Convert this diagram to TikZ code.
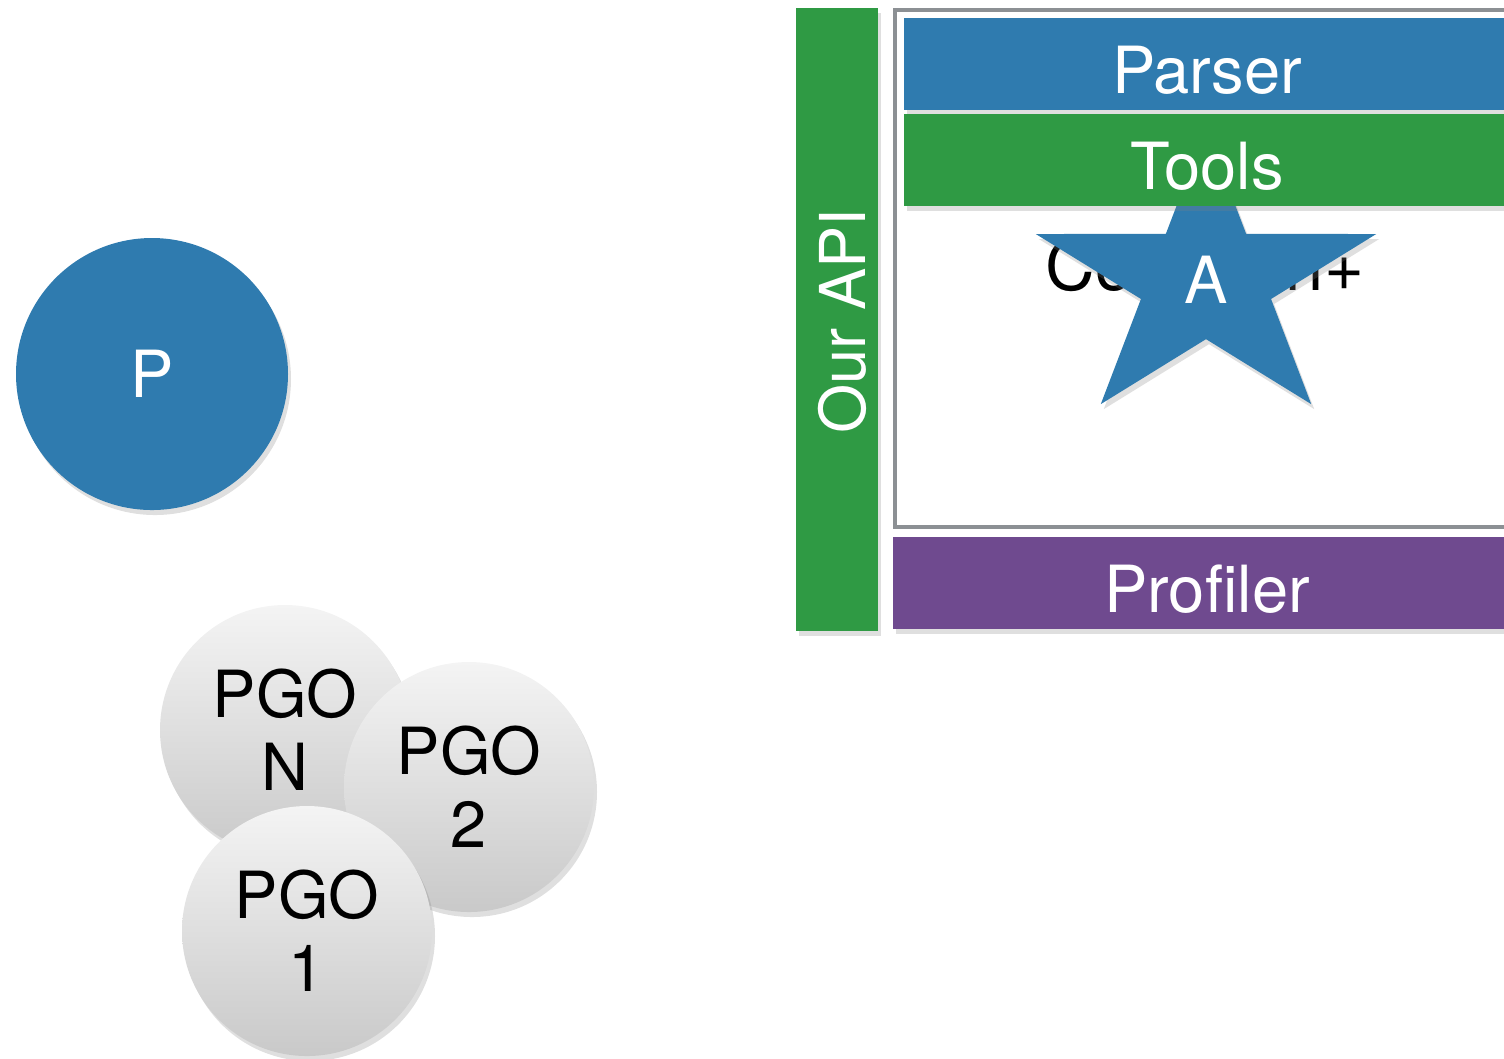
\documentclass[tikz,border=0pt]{standalone}
\usepackage{fontspec}
\setmainfont{TeX Gyre Heros}
\usetikzlibrary{shadows}
\definecolor{apiblue}{HTML}{2F7BAF}
\definecolor{apigreen}{HTML}{2F9A44}
\definecolor{profpurple}{HTML}{6F4A8F}
\definecolor{framegray}{HTML}{8C9094}
\definecolor{pgotop}{HTML}{F4F4F4}
\definecolor{pgobot}{HTML}{C9C9C9}

\begin{document}
\begin{tikzpicture}[
    txt/.style={font=\fontsize{18.5}{20.8}\selectfont},
    shade/.style={drop shadow={opacity=0.25,shadow xshift=0.03cm,shadow yshift=-0.05cm}},
    bar/.style={txt, rectangle, minimum width=6.06cm, minimum height=0.92cm, inner sep=0pt, text height=0.58cm, text depth=0cm, text=white, shade},
    pgo/.style={txt, circle, minimum size=2.5cm, inner sep=0pt, align=center, top color=pgotop, bottom color=pgobot, shade}
  ]
  \clip(0,0) rectangle (15.04,-10.58);
  % left side
  \node[txt, circle, minimum size=2.72cm, fill=apiblue, text=white, shade] (p) at (1.52,-3.74) {P};
  \node[pgo] (pgoN) at (2.85,-7.30) {PGO\\N};
  \node[pgo] (pgo2) at (4.69,-7.87) {PGO\\2};
  \node[pgo] (pgo1) at (3.07,-9.31) {PGO\\1};
  % right side
  \node[txt, rectangle, minimum width=0.82cm, minimum height=6.23cm, inner sep=0pt, fill=apigreen, text=white, shade] (api) at (8.37,-3.195) {};
  \node[txt, rotate=90, text=white, font=\fontsize{18}{20}\selectfont] (apitext) at (8.42,-3.21) {Our API};
  \draw[framegray, line width=1.2pt, fill=white] (8.95,-0.10) rectangle (15.4,-5.27);
  \node[txt, font=\fontsize{19.5}{22}\selectfont] (codegen) at (12.05,-2.72) {Codegen+};
  \begin{scope}[shift={(12.06,-2.81)}, yscale=0.85]
    \fill[apiblue, shade] (90:1.79) -- (126:0.684) -- (162:1.79) -- (198:0.684) -- (234:1.79)
      -- (270:0.684) -- (306:1.79) -- (342:0.684) -- (18:1.79) -- (54:0.684) -- cycle;
  \end{scope}
  \node[txt, text=white] (a) at (12.06,-2.80) {A};
  \node[bar, fill=apiblue] (parser) at (12.07,-0.64) {Parser};
  \node[bar, fill=apigreen] (tools) at (12.07,-1.60) {Tools};
  \node[bar, fill=profpurple, minimum width=6.28cm] (profiler) at (12.07,-5.83) {Profiler};
\end{tikzpicture}
\end{document}
